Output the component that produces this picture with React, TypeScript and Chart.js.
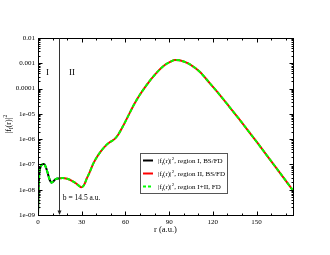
import React, { useEffect, useRef } from 'react';
import { Chart, registerables } from 'chart.js';

Chart.register(...registerables);

// Region I (r < b), BS/FD
const regionIR = [0, 0.4, 0.9, 1.6, 2.5, 3.5, 4.5, 5.5, 6.7, 7.7, 8.6, 9.3, 10.5, 12, 14.5];
const regionIV = [1e-9, 1e-8, 4.5e-8, 7.5e-8, 9.5e-8, 1.05e-7, 1.0e-7, 7.5e-8, 4.5e-8, 2.8e-8, 2.1e-8, 1.9e-8, 2.1e-8, 2.6e-8, 2.8e-8];

// Region II (r > b), BS/FD
const regionIIR = [14.5, 17, 20, 23, 26, 28, 29.7, 31.5, 33.5, 35.5, 38, 41, 43.5, 46, 49, 52.5, 55, 58, 62, 66, 70, 75, 81, 87, 91, 94, 97, 100, 104, 111, 118, 125, 131.6, 138.5, 144, 150, 157, 165, 175];
const regionIIV = [2.8e-8, 2.9e-8, 2.7e-8, 2.3e-8, 1.8e-8, 1.45e-8, 1.25e-8, 1.5e-8, 2.8e-8, 5e-8, 1.1e-7, 2.2e-7, 3.5e-7, 5.2e-7, 7.4e-7, 1.0e-6, 1.5e-6, 3e-6, 8.5e-6, 2.4e-5, 5.8e-5, 1.5e-4, 4e-4, 8.5e-4, 1.15e-3, 1.35e-3, 1.32e-3, 1.18e-3, 9.3e-4, 4.6e-4, 1.6e-4, 5.4e-5, 1.82e-5, 5.75e-6, 2.24e-6, 7.9e-7, 2.3e-7, 5.6e-8, 9.3e-9];

// Ticks
const xTickValues = [0, 30, 60, 90, 120, 150];
const xTickLabels = ['0', '30', '60', '90', '120', '150'];
const yTickValues = [1e-9, 1e-8, 1e-7, 1e-6, 1e-5, 1e-4, 1e-3, 1e-2];
const yTickLabels = ['1e-09', '1e-08', '1e-07', '1e-06', '1e-05', '0.0001', '0.001', '0.01'];

const legendLabels = [', region I, BS/FD', ', region II, BS/FD', ', region I+II, FD'];
const legendColors = ['#000000', '#ff0000', '#00ff00'];
const boundaryR = 14.5;
const boundaryLabel = 'b = 14.5 a.u.';
const xTitle = 'r (a.u.)';

const SERIF = "'Liberation Serif', 'Times New Roman', serif";

function drawFl(ctx: CanvasRenderingContext2D, x: number, y: number, size: number): number {
  ctx.textBaseline = 'alphabetic';
  ctx.textAlign = 'left';
  let cx = x;
  ctx.font = `${size}px ${SERIF}`;
  ctx.fillText('|f', cx, y);
  cx += ctx.measureText('|f').width;
  ctx.font = `${size * 0.7}px ${SERIF}`;
  ctx.fillText('l', cx, y + size * 0.25);
  cx += ctx.measureText('l').width;
  ctx.font = `${size}px ${SERIF}`;
  ctx.fillText('(r)|', cx, y);
  cx += ctx.measureText('(r)|').width;
  ctx.font = `${size * 0.7}px ${SERIF}`;
  ctx.fillText('2', cx + 0.3, y - size * 0.45);
  cx += ctx.measureText('2').width + 0.3;
  ctx.font = `${size}px ${SERIF}`;
  return cx - x;
}

function measureFl(ctx: CanvasRenderingContext2D, size: number): number {
  ctx.font = `${size}px ${SERIF}`;
  let w = ctx.measureText('|f').width + ctx.measureText('(r)|').width;
  ctx.font = `${size * 0.7}px ${SERIF}`;
  w += ctx.measureText('l').width + ctx.measureText('2').width + 0.3;
  return w;
}

const decorPlugin = {
  id: 'decor',
  afterDraw(chart: any) {
    const { ctx, chartArea: a, scales } = chart;
    const xs = scales.x;
    const ys = scales.y;
    ctx.save();
    ctx.strokeStyle = '#000';
    ctx.fillStyle = '#000';
    ctx.lineWidth = 1;
    const L = Math.round(a.left) + 0.5;
    const R = Math.round(a.right) + 0.5;
    const T = Math.round(a.top) + 0.5;
    const B = Math.round(a.bottom) + 0.5;
    ctx.strokeRect(L, T, R - L, B - T);

    ctx.beginPath();
    for (let v = 0; v <= 175; v += 10) {
      const px = Math.round(xs.getPixelForValue(v)) + 0.5;
      const len = v % 30 === 0 ? 4 : 2;
      ctx.moveTo(px, B); ctx.lineTo(px, B - len);
      ctx.moveTo(px, T); ctx.lineTo(px, T + len);
    }
    for (let e = -9; e <= -2; e++) {
      for (let m = 1; m <= 9; m++) {
        if (e === -2 && m > 1) break;
        const v = m * Math.pow(10, e);
        const py = Math.round(ys.getPixelForValue(v)) + 0.5;
        const len = m === 1 ? 4 : 2;
        ctx.moveTo(L, py); ctx.lineTo(L + len, py);
        ctx.moveTo(R, py); ctx.lineTo(R - len, py);
      }
    }
    ctx.stroke();

    const bx = Math.round(xs.getPixelForValue(boundaryR)) + 0.5;
    ctx.strokeStyle = '#333';
    ctx.beginPath();
    ctx.moveTo(bx, T);
    ctx.lineTo(bx, B - 3);
    ctx.stroke();
    ctx.fillStyle = '#222';
    ctx.beginPath();
    ctx.moveTo(bx - 2, B - 5);
    ctx.lineTo(bx + 2, B - 5);
    ctx.lineTo(bx, B - 0.5);
    ctx.closePath();
    ctx.fill();

    ctx.fillStyle = '#000';
    ctx.font = `9px ${SERIF}`;
    ctx.textAlign = 'center';
    ctx.textBaseline = 'middle';
    ctx.fillText('I', xs.getPixelForValue(6.5), ys.getPixelForValue(4.2e-4));
    ctx.fillText('II', xs.getPixelForValue(23.3), ys.getPixelForValue(4.2e-4));

    ctx.font = `7.5px ${SERIF}`;
    ctx.textAlign = 'left';
    ctx.fillText(boundaryLabel, xs.getPixelForValue(17), ys.getPixelForValue(4.6e-9));

    ctx.font = `8.5px ${SERIF}`;
    ctx.textAlign = 'center';
    ctx.textBaseline = 'middle';
    ctx.fillText(xTitle, (a.left + a.right) / 2, 230);

    ctx.save();
    ctx.translate(10.5, 124);
    ctx.rotate(-Math.PI / 2);
    const w = measureFl(ctx, 8);
    drawFl(ctx, -w / 2, 0, 8);
    ctx.restore();

    const lx = a.left + 102;
    const ly = a.top + 115;
    const lw = 87;
    const lh = 40;
    ctx.fillStyle = '#fff';
    ctx.fillRect(Math.round(lx) + 0.5, Math.round(ly) + 0.5, lw, lh);
    ctx.strokeStyle = '#555';
    ctx.lineWidth = 1;
    ctx.strokeRect(Math.round(lx) + 0.5, Math.round(ly) + 0.5, lw, lh);
    for (let i = 0; i < legendLabels.length; i++) {
      const ry = ly + 7.5 + i * 13;
      ctx.strokeStyle = legendColors[i];
      ctx.lineWidth = 2;
      ctx.setLineDash(i === 2 ? [3, 2] : []);
      ctx.beginPath();
      ctx.moveTo(lx + 3, ry);
      ctx.lineTo(lx + 13, ry);
      ctx.stroke();
      ctx.setLineDash([]);
      ctx.fillStyle = '#000';
      const fw = drawFl(ctx, lx + 18, ry + 2.5, 7);
      ctx.font = `7px ${SERIF}`;
      ctx.fillText(legendLabels[i], lx + 18 + fw, ry + 2.5);
    }
    ctx.restore();
  },
};

function toPoints(rs: number[], vs: number[]) {
  return rs.map((r, i) => ({ x: r, y: vs[i] }));
}

export default function App() {
  const ref = useRef<HTMLCanvasElement | null>(null);
  useEffect(() => {
    document.body.style.margin = '0';
    if (!ref.current) return;
    const greenR = regionIR.concat(regionIIR.slice(1));
    const greenV = regionIV.concat(regionIIV.slice(1));
    const chart = new Chart(ref.current, {
      type: 'line',
      data: {
        datasets: [
          {
            label: 'region I+II, FD',
            data: toPoints(greenR, greenV),
            borderColor: '#00ff00',
            borderWidth: 2,
            borderDash: [4, 2],
            cubicInterpolationMode: 'monotone',
            pointRadius: 0,
            fill: false,
            order: 0,
          },
          {
            label: 'region I, BS/FD',
            data: toPoints(regionIR, regionIV),
            borderColor: '#000000',
            borderWidth: 2,
            cubicInterpolationMode: 'monotone',
            pointRadius: 0,
            fill: false,
            order: 1,
          },
          {
            label: 'region II, BS/FD',
            data: toPoints(regionIIR, regionIIV),
            borderColor: '#ff0000',
            borderWidth: 2,
            cubicInterpolationMode: 'monotone',
            pointRadius: 0,
            fill: false,
            order: 2,
          },
        ],
      },
      options: {
        responsive: false,
        animation: false,
        devicePixelRatio: 1,
        layout: { padding: { top: 38, right: 37, left: 0, bottom: 0 } },
        plugins: { legend: { display: false }, tooltip: { enabled: false } },
        scales: {
          x: {
            type: 'linear',
            min: 0,
            max: 175,
            grid: { display: false, drawTicks: false },
            border: { display: false },
            afterBuildTicks: (s: any) => {
              s.ticks = xTickValues.map((v) => ({ value: v }));
            },
            afterFit: (s: any) => {
              s.height = 40;
            },
            ticks: {
              autoSkip: false,
              maxRotation: 0,
              padding: 3,
              color: '#000',
              font: { family: SERIF, size: 7 },
              callback: (v: any) => {
                const i = xTickValues.indexOf(Number(v));
                return i >= 0 ? xTickLabels[i] : '';
              },
            },
          },
          y: {
            type: 'logarithmic',
            min: 1e-9,
            max: 1e-2,
            grid: { display: false, drawTicks: false },
            border: { display: false },
            afterBuildTicks: (s: any) => {
              s.ticks = yTickValues.map((v) => ({ value: v }));
            },
            afterFit: (s: any) => {
              s.width = 38;
            },
            ticks: {
              autoSkip: false,
              padding: 3,
              color: '#000',
              font: { family: SERIF, size: 7 },
              callback: (v: any) => {
                const lv = Math.log10(Number(v));
                const i = yTickValues.findIndex((t) => Math.abs(Math.log10(t) - lv) < 1e-6);
                return i >= 0 ? yTickLabels[i] : '';
              },
            },
          },
        },
      } as any,
      plugins: [decorPlugin],
    });
    return () => chart.destroy();
  }, []);
  return (
    <div style={{ position: 'absolute', left: 0, top: 0, width: 330, height: 255, background: '#fff' }}>
      <canvas ref={ref} width={330} height={255} />
    </div>
  );
}
